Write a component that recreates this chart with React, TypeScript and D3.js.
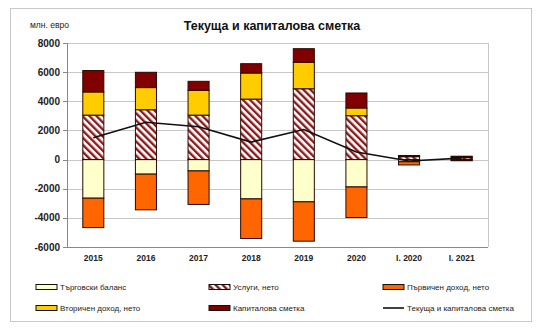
import React from "react";
import * as d3 from "d3";

const categories = ["2015", "2016", "2017", "2018", "2019", "2020", "I. 2020", "I. 2021"];
const trade = [-2650, -1000, -780, -2700, -2900, -1880, -150, -40];
const services = [3050, 3420, 3050, 4150, 4860, 3010, 200, 130];
const primary = [-2020, -2450, -2300, -2720, -2700, -2100, -220, -40];
const secondary = [1590, 1520, 1700, 1790, 1820, 530, 50, 60];
const capital = [1470, 1050, 620, 640, 930, 1030, 30, 40];
const total = [1500, 2560, 2250, 1200, 2060, 520, -100, 100];
const yTicks = [-6000, -4000, -2000, 0, 2000, 4000, 6000, 8000];

const keys = ["trade", "services", "primary", "secondary", "capital"];
const labels = ["Търговски баланс", "Услуги, нето", "Първичен доход, нето", "Вторичен доход, нето", "Капиталова сметка"];
const fills: Record<string, string> = {
  trade: "#FFFFCC",
  services: "url(#hatch)",
  primary: "#FF6600",
  secondary: "#FFCC00",
  capital: "#800000",
};

export default function App() {
  const W = 539, H = 332;
  const x = d3.scaleBand<string>().domain(categories).range([67, 488]).paddingInner(0.6).paddingOuter(0.3);
  const y = d3.scaleLinear().domain([-6000, 8000]).range([247, 43]);
  const rows = categories.map((c, i) => ({
    cat: c,
    trade: trade[i],
    services: services[i],
    primary: primary[i],
    secondary: secondary[i],
    capital: capital[i],
  }));
  const stack = d3.stack<any>().keys(keys).offset(d3.stackOffsetDiverging);
  const series = stack(rows);
  const line = d3
    .line<number>()
    .x((_, i) => (x(categories[i]) as number) + x.bandwidth() / 2)
    .y((d) => y(d));
  const font = "'Liberation Sans', Arial, sans-serif";

  const legendPos = [
    { x: 36, y: 287 },
    { x: 209, y: 287 },
    { x: 383, y: 287 },
    { x: 36, y: 308 },
    { x: 209, y: 308 },
    { x: 383, y: 308 },
  ];

  return (
    <svg width={W} height={H} style={{ position: "absolute", left: 0, top: 0, background: "#fff" }} fontFamily={font}>
      <defs>
        <pattern id="hatch" patternUnits="userSpaceOnUse" width="5" height="5" patternTransform="rotate(-45)">
          <rect width="5" height="5" fill="#fff" />
          <rect x="0" y="0" width="2.4" height="5" fill="#8B1A1A" />
        </pattern>
      </defs>
      <rect x={10.5} y={8.5} width={521} height={313} fill="#fff" stroke="#C8C8C8" strokeWidth={1} />
      <text x={272} y={30} textAnchor="middle" fontSize={12.5} fontWeight="bold" fill="#111">
        Текуща и капиталова сметка
      </text>
      <text x={30} y={28} fontSize={8.5} fill="#222">млн. евро</text>

      {/* grid */}
      {yTicks.map((t) => (
        <line key={t} x1={67} x2={488} y1={Math.round(y(t)) + 0.5} y2={Math.round(y(t)) + 0.5} stroke="#C8C8C8" strokeWidth={1} />
      ))}
      <line x1={488.5} x2={488.5} y1={y(8000)} y2={y(-6000)} stroke="#C8C8C8" />
      <line x1={67.5} x2={67.5} y1={y(8000)} y2={y(-6000)} stroke="#888" />
      <line x1={67} x2={488} y1={Math.round(y(-6000)) + 0.5} y2={Math.round(y(-6000)) + 0.5} stroke="#888" />
      {yTicks.map((t) => (
        <g key={"l" + t}>
          <line x1={63} x2={67} y1={Math.round(y(t)) + 0.5} y2={Math.round(y(t)) + 0.5} stroke="#888" />
          <text x={60} y={y(t) + 3.5} textAnchor="end" fontSize={10} fontWeight="bold" fill="#222">
            {t}
          </text>
        </g>
      ))}
      {categories.map((c) => (
        <text key={c} x={(x(c) as number) + x.bandwidth() / 2} y={261} textAnchor="middle" fontSize={8.5} fontWeight="bold" fill="#222">
          {c}
        </text>
      ))}

      {/* bars */}
      {series.map((s) => (
        <g key={s.key}>
          {s.map((d, i) => {
            const y0 = y(d[0]);
            const y1 = y(d[1]);
            return (
              <rect
                key={i}
                x={x(categories[i])}
                width={x.bandwidth()}
                y={Math.min(y0, y1)}
                height={Math.abs(y1 - y0)}
                fill={fills[s.key]}
                stroke="#2a0a00"
                strokeWidth={1}
              />
            );
          })}
        </g>
      ))}
      <path d={line(total) || ""} fill="none" stroke="#111" strokeWidth={1.6} />

      {/* legend */}
      {keys.map((k, i) => (
        <g key={k} transform={`translate(${legendPos[i].x},${legendPos[i].y})`}>
          <rect x={0} y={-2.5} width={21} height={5} fill={fills[k]} stroke="#111" strokeWidth={1} />
          <text x={24} y={3} fontSize={8} fill="#222">{labels[i]}</text>
        </g>
      ))}
      <g transform={`translate(${legendPos[5].x},${legendPos[5].y})`}>
        <line x1={0} x2={21} y1={0} y2={0} stroke="#111" strokeWidth={1.6} />
        <text x={24} y={3} fontSize={8} fill="#222">Текуща и капиталова сметка</text>
      </g>
    </svg>
  );
}
